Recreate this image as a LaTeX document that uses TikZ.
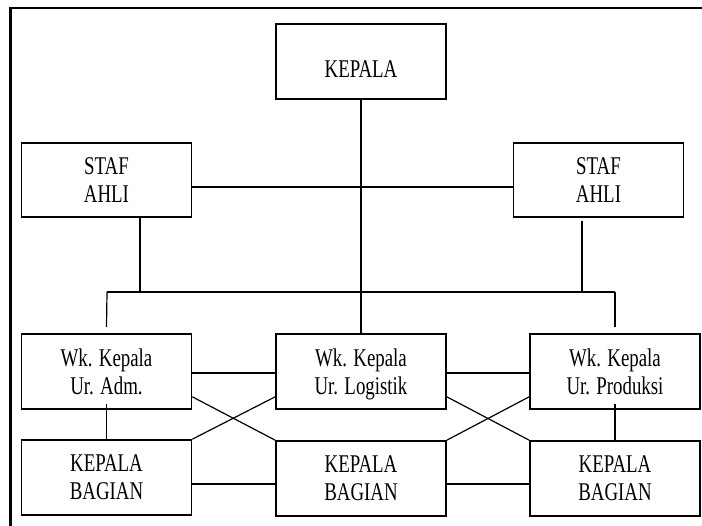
\documentclass[tikz,border=0pt]{standalone}
\usepackage{fontspec}
\setmainfont{Liberation Serif}[FakeStretch=0.74]
\usetikzlibrary{calc}

\begin{document}
\begin{tikzpicture}[x=1pt,y=-1pt,
  box/.style={draw=black, line width=1.6pt, rectangle, minimum width=170pt,
    minimum height=75pt, inner sep=0pt, align=center, text depth=0pt,
    font=\fontsize{25.5}{28}\selectfont},
  link/.style={draw=black, line width=1.2pt},
  outerframe/.style={draw=black, line width=2.8pt}]
\useasboundingbox (0,0) rectangle (702,526);
\fill[white] (0,0) rectangle (702,526);

% open frame: top and left edges only
\draw[outerframe] (10.5,526) -- (10.5,8) -- (702,8);

% boxes
\node[box] (kepala) at (361,61.5) {\smash{\raisebox{-16.5pt}{KEPALA}}};
\node[box, minimum height=74pt] (stafL) at (106.5,180) {STAF\\AHLI};
\node[box, minimum height=74pt] (stafR) at (598.5,180) {STAF\\AHLI};
\node[box] (wkL) at (106.5,371.5) {Wk. Kepala\\Ur. Adm.};
\node[box] (wkM) at (361,371.5) {Wk. Kepala\\Ur. Logistik};
\node[box] (wkR) at (615,371.5) {Wk. Kepala\\Ur. Produksi};
\node[box] (kbL) at (106.5,477.5) {KEPALA\\BAGIAN};
\node[box] (kbM) at (361,478.5) {KEPALA\\BAGIAN};
\node[box] (kbR) at (615,478.5) {KEPALA\\BAGIAN};

% bus joining the staff lines to the deputies
\coordinate (busL) at (107,292);
\coordinate (busR) at (615,292);

% head to central deputy
\draw[link] (kepala.south) -- (wkM.north);
% staff to staff
\draw[link] ($(stafL.east)+(0,7)$) -- ($(stafR.west)+(0,7)$);
% staff down to the bus
\draw[link] ($(stafL.south)+(33.5,0)$) |- (busL);
\draw[link] ($(stafR.south)+(-16.5,3)$) |- (busR);
\draw[link] (busL) -- (busR);
\draw[link] (busL) -- ($(wkL.north)+(0,-6)$);
\draw[link] (busR) -- ($(wkR.north)+(0,-6)$);

% deputies side by side
\draw[link] ($(wkL.east)+(0,1.5)$) -- ($(wkM.west)+(0,1.5)$);
\draw[link] ($(wkM.east)+(0,1.5)$) -- ($(wkR.west)+(0,1.5)$);

% crossing links between deputies and section heads
\draw[link] ($(wkL.south east)+(0,-13)$) -- (kbM.north west);
\draw[link] (kbL.north east) -- ($(wkM.south west)+(0,-13)$);
\draw[link] ($(wkM.south east)+(0,-13)$) -- (kbR.north west);
\draw[link] (kbM.north east) -- ($(wkR.south west)+(0,-13)$);

% deputies down to their section heads
\draw[link] ($(wkL.south)+(0,-6)$) -- (kbL.north);
\draw[link] ($(wkR.south)+(0,-6)$) -- (kbR.north);

% section heads side by side
\draw[link] ($(kbL.east)+(0,6.5)$) -- ($(kbM.west)+(0,5.5)$);
\draw[link] ($(kbM.east)+(0,5.5)$) -- ($(kbR.west)+(0,5.5)$);
\end{tikzpicture}
\end{document}
